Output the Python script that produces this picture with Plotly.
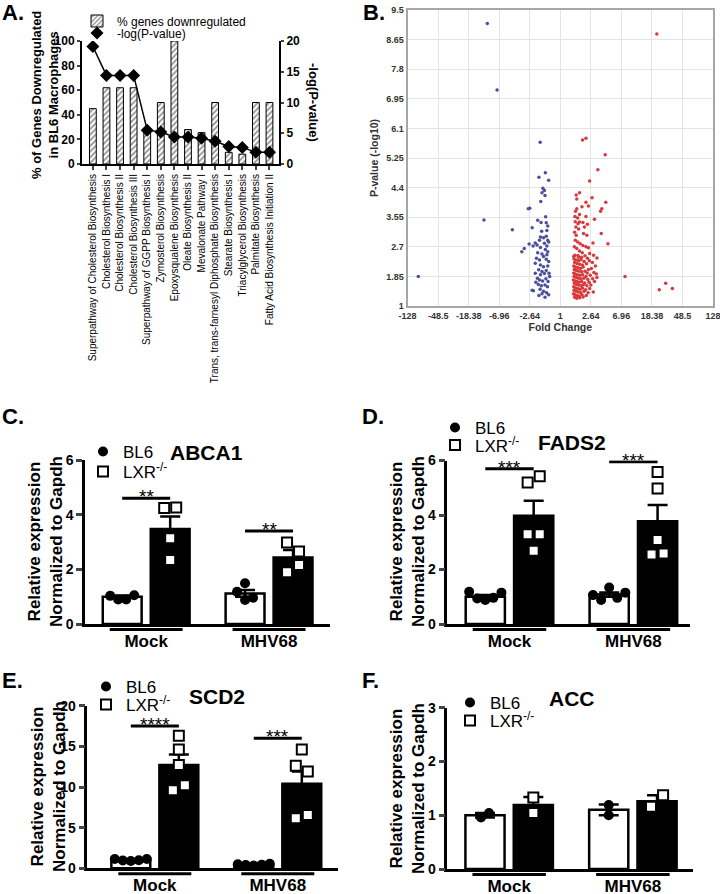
import plotly.graph_objects as go

W, H = 720, 894
FONT = "Arial, 'Liberation Sans', sans-serif"

# ---------------- Panel A data ----------------
pathways = [
    "Superpathway of Cholesterol Biosynthesis",
    "Cholesterol Biosynthesis I",
    "Cholesterol Biosynthesis II",
    "Cholesterol Biosynthesis III",
    "Superpathway of GGPP Biosynthesis I",
    "Zymosterol Biosynthesis",
    "Epoxysqualene Biosynthesis",
    "Oleate Biosynthesis II",
    "Mevalonate Pathway I",
    "Trans, trans-farnesyl Diphosphate Biosynthesis",
    "Stearate Biosynthesis I",
    "Triacylglycerol Biosynthesis",
    "Palmitate Biosynthesis",
    "Fatty Acid Biosynthesis Initiation II",
]
pct_genes_down = [45, 62, 62, 62, 26, 50, 100, 28, 25.5, 50, 9.5, 8, 50, 50]
neg_log_p = [19.1, 14.4, 14.4, 14.4, 5.5, 5.2, 4.4, 4.4, 4.2, 3.7, 2.85, 2.7, 1.9, 1.9]

# ---------------- Panel B data ----------------
# fold change is shown on a signed log scale: one tick step = x2.64
fc_ticktext = ["-128", "-48.5", "-18.38", "-6.96", "-2.64", "1", "2.64", "6.96", "18.38", "48.5", "128"]
p_ticktext = ["1", "1.85", "2.7", "3.55", "4.4", "5.25", "6.1", "6.95", "7.8", "8.65", "9.5"]

down_fc = [-2.39, -2.07, -0.66, -4.65, -2.50, -1.57,
           -0.49, -0.70, -0.38, -0.57, -0.52, -0.60, -0.50, -0.64,
           -1.00, -1.05, -0.48, -0.74, -0.63, -0.46, -0.41, -0.92, -0.61, -0.44,
           -0.65, -0.55, -0.46, -0.41, -0.68,
           -1.02, -0.89, -1.18, -1.26,
           -0.82, -0.76, -0.52, -0.44, -0.38, -0.65, -0.49, -0.41, -0.74, -0.60, -0.55, -0.44,
           -0.78, -0.68, -0.46, -0.38, -0.82, -0.65, -0.55, -0.41, -0.71, -0.60, -0.46, -0.82,
           -0.65, -0.52, -0.37,
           -0.92, -0.88, -0.75, -0.68, -0.58, -0.47, -0.40, -0.72, -0.62, -0.50, -0.42, -0.66,
           -0.55, -0.45, -0.38, -0.60, -0.70, -0.50, -0.80, -0.35]
down_logp = [9.11, 7.20, 5.70, 1.85, 3.47, 3.19,
             4.83, 4.70, 4.61, 4.38, 4.32, 4.25, 4.17, 4.00,
             3.81, 3.79, 3.56, 3.46, 3.40, 3.39, 3.30, 3.25, 3.15, 3.17,
             2.98, 2.96, 3.00, 2.89, 2.89,
             2.78, 2.72, 2.65, 2.56,
             2.81, 2.75, 2.80, 2.72, 2.84, 2.68, 2.62, 2.56, 2.53, 2.49, 2.42, 2.47,
             2.37, 2.32, 2.34, 2.28, 2.23, 2.18, 2.13, 2.15, 2.04, 1.99, 2.02, 1.94,
             1.90, 1.93, 1.94,
             1.45, 1.44, 1.80, 1.75, 1.72, 1.78, 1.70, 1.62, 1.58, 1.60, 1.55, 1.48,
             1.42, 1.38, 1.32, 1.35, 1.30, 1.25, 1.68, 1.85]

up_fc = [3.16, 0.73, 0.84, 1.47, 1.23, 0.96,
         0.63, 0.52, 1.04, 1.49, 0.54, 0.84, 0.71, 0.92, 1.36, 1.32, 0.54, 0.50, 0.63, 0.84,
         0.48, 0.57, 1.12, 0.74, 0.63, 0.49, 0.58, 0.79, 0.89, 0.51, 0.60, 1.34, 0.47, 0.52,
         0.76, 0.87, 1.56, 1.07,
         0.49, 0.57, 0.65, 0.74, 0.84, 0.92,
         0.46, 0.54, 0.63, 0.72, 0.96, 1.09, 0.81, 0.48, 0.60, 0.89,
         0.45, 0.52, 0.60, 0.68, 0.78, 0.95, 1.05, 0.47, 0.55, 0.63, 0.72, 0.86, 1.15,
         0.44, 0.50, 0.58, 0.66, 0.75, 0.92, 1.02, 0.46, 0.53, 0.61, 0.70, 0.81, 0.88,
         1.10, 1.18, 0.44, 0.49, 0.56, 0.64, 0.73, 0.84, 0.98, 1.20, 0.45, 0.52, 0.59,
         0.67, 0.77, 0.90, 1.06, 0.43, 0.48, 0.55, 0.62, 0.70, 0.80, 0.94, 1.12, 0.46,
         0.53, 0.60, 0.68, 0.76, 0.87, 1.00, 0.44, 0.50, 0.57, 0.65, 0.73, 0.83, 0.96,
         0.45, 0.52, 0.59, 0.67, 0.78, 0.91, 1.08, 0.43, 0.48, 0.55, 0.62, 0.71, 0.85,
         0.47, 0.54, 0.64, 0.75, 0.44, 0.58, 0.70, 1.20,
         2.12, 3.45, 3.24, 3.67]
up_logp = [8.81, 5.77, 5.82, 5.34, 4.91, 4.59,
           4.25, 4.19, 4.11, 3.98, 4.07, 3.98, 3.85, 3.87, 3.79, 3.72, 3.79, 3.72, 3.63, 3.57,
           3.57, 3.53, 3.49, 3.40, 3.41, 3.42, 3.36, 3.27, 3.35, 3.27, 3.21, 3.08, 3.12, 3.03,
           3.08, 3.03, 2.79, 2.81,
           2.89, 2.84, 2.79, 2.74, 2.70, 2.67,
           2.70, 2.65, 2.58, 2.53, 2.51, 2.46, 2.44, 2.46, 2.40, 2.37,
           2.35, 2.32, 2.30, 2.33, 2.28, 2.30, 2.25, 2.25, 2.22, 2.20, 2.18, 2.21, 2.15,
           2.15, 2.12, 2.10, 2.08, 2.12, 2.05, 2.08, 2.05, 2.02, 2.00, 1.98, 2.00, 1.95,
           1.96, 1.92, 1.95, 1.92, 1.90, 1.88, 1.90, 1.85, 1.88, 1.82, 1.85, 1.82, 1.80,
           1.78, 1.80, 1.76, 1.78, 1.75, 1.72, 1.70, 1.68, 1.70, 1.66, 1.68, 1.70, 1.65,
           1.62, 1.60, 1.58, 1.62, 1.58, 1.60, 1.55, 1.52, 1.50, 1.48, 1.52, 1.47, 1.50,
           1.45, 1.42, 1.40, 1.38, 1.42, 1.38, 1.40, 1.35, 1.32, 1.30, 1.28, 1.32, 1.30,
           1.25, 1.22, 1.24, 1.26, 2.42, 2.45, 2.40, 2.38,
           1.85, 1.65, 1.47, 1.50]

# ---------------- Panels C-F data ----------------
groups = ["Mock", "MHV68"]

abca1_bl6_mean, abca1_bl6_sem = [1.0, 1.12], [0.04, 0.12]
abca1_lxr_mean, abca1_lxr_sem = [3.48, 2.43], [0.45, 0.28]
abca1_bl6_pts = [[1.03, 0.90, 0.90, 1.05], [1.49, 1.18, 0.88, 0.96]]
abca1_lxr_pts = [[4.24, 4.26, 3.14, 2.34], [2.98, 2.65, 1.89, 2.16]]
abca1_sig = [("**", 4.6), ("**", 3.4)]

fads2_bl6_mean, fads2_bl6_sem = [1.0, 1.08], [0.06, 0.08]
fads2_lxr_mean, fads2_lxr_sem = [3.97, 3.77], [0.55, 0.60]
fads2_bl6_pts = [[1.18, 0.94, 0.88, 0.96, 1.15], [1.06, 0.88, 1.34, 0.96, 1.15]]
fads2_lxr_pts = [[5.19, 5.42, 3.29, 3.29, 2.69], [5.58, 4.97, 3.08, 2.55, 2.59]]
fads2_sig = [("***", 5.7), ("***", 5.95)]

scd2_bl6_mean, scd2_bl6_sem = [1.05, 0.45], [0.06, 0.04]
scd2_lxr_mean, scd2_lxr_sem = [12.7, 10.4], [1.3, 1.5]
scd2_bl6_pts = [[1.15, 0.95, 0.90, 1.00, 1.15], [0.50, 0.40, 0.35, 0.45, 0.55]]
scd2_lxr_pts = [[16.3, 14.6, 12.7, 9.6, 10.2], [14.6, 12.6, 11.9, 6.15, 6.55]]
scd2_sig = [("****", 17.5), ("***", 16.0)]

acc_bl6_mean, acc_bl6_sem = [1.0, 1.1], [0.04, 0.10]
acc_lxr_mean, acc_lxr_sem = [1.19, 1.26], [0.15, 0.11]
acc_bl6_pts = [[0.96, 1.04], [1.00, 1.19]]
acc_lxr_pts = [[1.33, 1.04], [1.16, 1.37]]
acc_sig = []

# ---------------- helpers ----------------
def fx(px):
    return px / W

def fy(py):
    return 1 - py / H

def bold(size, color="black"):
    return dict(family=FONT, size=size, color=color, weight="bold")

def legend_box(marker_px, center_py, size):
    # plotly draws the legend symbol ~20px right of the legend's left edge
    return dict(x=fx(marker_px - 20), y=fy(center_py), xanchor="left", yanchor="middle",
                font=dict(family=FONT, size=size, color="black"),
                bgcolor="rgba(0,0,0,0)", borderwidth=0)

def swarm(vals, ypu, thr, step):
    """GraphPad-like horizontal spreading of overlapping points (pixel offsets)."""
    n = len(vals)
    order = sorted(range(n), key=lambda i: -vals[i])
    clusters = []
    for i in order:
        if clusters and any(abs(vals[i] - vals[j]) * ypu < thr for j in clusters[-1]):
            clusters[-1].append(i)
        else:
            clusters.append([i])
    offs = [0.0] * n
    for c in clusters:
        c = sorted(c)
        for k, i in enumerate(c):
            offs[i] = (k - (len(c) - 1) / 2) * step
    return offs

fig = go.Figure()
annotations = []
shapes = []
layout = {}

# ---------------- Panel A ----------------
fig.add_trace(go.Bar(
    x=pathways, y=pct_genes_down, width=0.5, name="% genes downregulated",
    marker=dict(color="white", line=dict(color="black", width=1),
                pattern=dict(shape="/", fgcolor="#222", bgcolor="white", size=4, solidity=0.45)),
    xaxis="x", yaxis="y", legend="legend"))
fig.add_trace(go.Scatter(
    x=pathways, y=neg_log_p, mode="lines", line=dict(color="black", width=1.5),
    xaxis="x", yaxis="y2", showlegend=False, hoverinfo="skip"))
fig.add_trace(go.Scatter(
    x=pathways, y=neg_log_p, mode="markers", name="-log(P-value)",
    marker=dict(symbol="diamond", size=10, color="black"),
    xaxis="x", yaxis="y2", legend="legend2"))

layout["xaxis"] = dict(domain=[fx(82), fx(279)], range=[-0.8, 13.7], anchor="y",
                       showline=True, linewidth=2, linecolor="black", ticks="outside",
                       ticklen=4, tickwidth=1.5, tickangle=-90, automargin=False,
                       tickfont=dict(family=FONT, size=10, color="black"), showgrid=False)
layout["yaxis"] = dict(domain=[fy(164), fy(41)], range=[0, 100], anchor="x",
                       tickvals=[0, 20, 40, 60, 80, 100], showline=True, linewidth=2,
                       linecolor="black", ticks="outside", ticklen=3, tickwidth=2,
                       tickfont=bold(12), showgrid=False, zeroline=False, automargin=False)
layout["yaxis2"] = dict(range=[0, 20], overlaying="y", side="right", anchor="x",
                        tickvals=[0, 5, 10, 15, 20], showline=True, linewidth=2,
                        linecolor="black", ticks="outside", ticklen=3, tickwidth=2,
                        tickfont=bold(12), showgrid=False, zeroline=False, automargin=False)
layout["legend"] = legend_box(97, 21, 12)
layout["legend2"] = legend_box(97, 33, 12)
annotations.append(dict(text="% of Genes Downregulated<br>in BL6 Macrophages",
                        x=fx(45), y=fy(95), xref="paper", yref="paper", textangle=-90,
                        showarrow=False, font=bold(13), xanchor="center", yanchor="middle"))
annotations.append(dict(text="-log(P-value)", x=fx(313), y=fy(102), xref="paper", yref="paper",
                        textangle=90, showarrow=False, font=bold(13),
                        xanchor="center", yanchor="middle"))

# ---------------- Panel B ----------------
fc_tickpos = list(range(-5, 6))
fig.add_trace(go.Scatter(x=down_fc, y=down_logp, mode="markers", showlegend=False,
                         marker=dict(size=3.5, color="#4d4f9c"), xaxis="x2", yaxis="y3"))
fig.add_trace(go.Scatter(x=up_fc, y=up_logp, mode="markers", showlegend=False,
                         marker=dict(size=3.5, color="#d8393b"), xaxis="x2", yaxis="y3"))
grid_style = dict(showgrid=True, gridcolor="#e4e4e4", gridwidth=1, showline=True, mirror=True,
                  linecolor="#a6a6a6", linewidth=2, ticks="", zeroline=False, automargin=False,
                  tickfont=bold(9, "#333"), ticklabeloverflow="allow")
layout["xaxis2"] = dict(domain=[fx(407.6), fx(713)], range=[-5, 5], anchor="y3",
                        tickvals=fc_tickpos, ticktext=fc_ticktext,
                        title=dict(text="Fold Change", font=bold(10.5, "#333"), standoff=4),
                        **grid_style)
layout["yaxis3"] = dict(domain=[fy(306), fy(10)], range=[1, 9.5], anchor="x2",
                        tickvals=[float(t) for t in p_ticktext], ticktext=p_ticktext,
                        title=dict(text="P-value (-log10)", font=bold(10.5, "#333"), standoff=6),
                        **grid_style)

# ---------------- Panels C-F ----------------
GROUP_CENTERS = [0.5, 3.06]
BAR_W = 0.81
XPU = 48.0

panels = [
    dict(gene="ABCA1", xa="x3", ya="y4", legs=("legend3", "legend4"),
         bl6_mean=abca1_bl6_mean, bl6_sem=abca1_bl6_sem, lxr_mean=abca1_lxr_mean,
         lxr_sem=abca1_lxr_sem, bl6_pts=abca1_bl6_pts, lxr_pts=abca1_lxr_pts, sig=abca1_sig,
         xpx=(85, 330), ypx=(460, 624), xr=[-0.775, 4.33], yr=[0, 6], ytv=[0, 2, 4, 6],
         leg_x=103, leg_y=(452, 472), title_pos=(207, 452), ytitle_pos=(45, 542),
         letter="C.", letter_pos=(0, 417)),
    dict(gene="FADS2", xa="x4", ya="y5", legs=("legend5", "legend6"),
         bl6_mean=fads2_bl6_mean, bl6_sem=fads2_bl6_sem, lxr_mean=fads2_lxr_mean,
         lxr_sem=fads2_lxr_sem, bl6_pts=fads2_bl6_pts, lxr_pts=fads2_lxr_pts, sig=fads2_sig,
         xpx=(447.3, 690), ypx=(460.5, 624), xr=[-0.785, 4.23], yr=[0, 6], ytv=[0, 2, 4, 6],
         leg_x=455, leg_y=(428, 445.5), title_pos=(572, 443), ytitle_pos=(407, 542),
         letter="D.", letter_pos=(360, 417)),
    dict(gene="SCD2", xa="x5", ya="y6", legs=("legend7", "legend8"),
         bl6_mean=scd2_bl6_mean, bl6_sem=scd2_bl6_sem, lxr_mean=scd2_lxr_mean,
         lxr_sem=scd2_lxr_sem, bl6_pts=scd2_bl6_pts, lxr_pts=scd2_lxr_pts, sig=scd2_sig,
         xpx=(87.3, 338.3), ypx=(705.7, 868.3), xr=[-0.906, 4.32], yr=[0, 20],
         ytv=[0, 5, 10, 15, 20],
         leg_x=106, leg_y=(687, 705), title_pos=(217, 696), ytitle_pos=(48, 787),
         letter="E.", letter_pos=(0, 680)),
    dict(gene="ACC", xa="x6", ya="y7", legs=("legend9", "legend10"),
         bl6_mean=acc_bl6_mean, bl6_sem=acc_bl6_sem, lxr_mean=acc_lxr_mean,
         lxr_sem=acc_lxr_sem, bl6_pts=acc_bl6_pts, lxr_pts=acc_lxr_pts, sig=acc_sig,
         xpx=(447.3, 693.3), ypx=(707.7, 869), xr=[-0.78, 4.31], yr=[0, 3], ytv=[0, 1, 2, 3],
         leg_x=470, leg_y=(703, 721), title_pos=(572, 698), ytitle_pos=(407, 789),
         letter="F.", letter_pos=(360, 680)),
]

for p in panels:
    xa, ya = p["xa"], p["ya"]
    ypu = (p["ypx"][1] - p["ypx"][0]) / (p["yr"][1] - p["yr"][0])
    bl6_x = [c - 0.5 for c in GROUP_CENTERS]
    lxr_x = [c + 0.5 for c in GROUP_CENTERS]
    err = dict(type="data", visible=True, color="black", thickness=2.5, width=10)
    fig.add_trace(go.Bar(x=bl6_x, y=p["bl6_mean"], width=BAR_W, showlegend=False,
                         marker=dict(color="white", line=dict(color="black", width=2.5)),
                         error_y=dict(array=p["bl6_sem"], **err), xaxis=xa, yaxis=ya))
    fig.add_trace(go.Bar(x=lxr_x, y=p["lxr_mean"], width=BAR_W, showlegend=False,
                         marker=dict(color="black", line=dict(color="black", width=2.5)),
                         error_y=dict(array=p["lxr_sem"], **err), xaxis=xa, yaxis=ya))
    bx, by, lx, ly = [], [], [], []
    for g in range(len(groups)):
        offs = swarm(p["bl6_pts"][g], ypu, 8, 8)
        bx += [bl6_x[g] + o / XPU for o in offs]
        by += p["bl6_pts"][g]
        offs = swarm(p["lxr_pts"][g], ypu, 12, 12)
        lx += [lxr_x[g] + o / XPU for o in offs]
        ly += p["lxr_pts"][g]
    fig.add_trace(go.Scatter(x=bx, y=by, mode="markers", name="BL6", legend=p["legs"][0],
                             marker=dict(symbol="circle", size=10, color="black"),
                             xaxis=xa, yaxis=ya))
    fig.add_trace(go.Scatter(x=lx, y=ly, mode="markers", name="LXR<sup>-/-</sup>",
                             legend=p["legs"][1],
                             marker=dict(symbol="square", size=10, color="white",
                                         line=dict(color="black", width=2)),
                             xaxis=xa, yaxis=ya))
    layout[p["legs"][0]] = legend_box(p["leg_x"], p["leg_y"][0], 17)
    layout[p["legs"][1]] = legend_box(p["leg_x"], p["leg_y"][1], 17)
    xkey = "xaxis" + xa[1:]
    ykey = "yaxis" + ya[1:]
    layout[xkey] = dict(domain=[fx(p["xpx"][0]), fx(p["xpx"][1])], range=p["xr"], anchor=ya,
                        showline=True, linewidth=2.5, linecolor="black", ticks="",
                        tickvals=GROUP_CENTERS, ticktext=groups, tickfont=bold(17),
                        showgrid=False, zeroline=False, ticklabelstandoff=0, automargin=False)
    layout[ykey] = dict(domain=[fy(p["ypx"][1]), fy(p["ypx"][0])], range=p["yr"], anchor=xa,
                        tickvals=p["ytv"], showline=True, linewidth=2.5, linecolor="black",
                        ticks="outside", ticklen=6, tickwidth=2.5, tickfont=bold(14),
                        showgrid=False, zeroline=False, automargin=False)
    # group underlines below the x axis
    x0p, x1p = p["xpx"]
    r0, r1 = p["xr"]
    for c in GROUP_CENTERS:
        a = x0p + (c - 0.76 - r0) / (r1 - r0) * (x1p - x0p)
        b = x0p + (c + 0.76 - r0) / (r1 - r0) * (x1p - x0p)
        shapes.append(dict(type="line", xref="paper", yref="paper", x0=fx(a), x1=fx(b),
                           y0=fy(p["ypx"][1] + 5.5), y1=fy(p["ypx"][1] + 5.5),
                           line=dict(color="black", width=3)))
    # significance bars
    for g, (stars, yv) in enumerate(p["sig"]):
        shapes.append(dict(type="line", xref=xa, yref=ya, x0=bl6_x[g], x1=lxr_x[g], y0=yv, y1=yv,
                           line=dict(color="black", width=3)))
        annotations.append(dict(text=stars, x=GROUP_CENTERS[g], y=yv, xref=xa, yref=ya,
                                showarrow=False, yanchor="bottom", yshift=-11,
                                font=dict(family=FONT, size=19, color="black")))
    annotations.append(dict(text=p["gene"], x=fx(p["title_pos"][0]), y=fy(p["title_pos"][1]),
                            xref="paper", yref="paper", showarrow=False, font=bold(21),
                            xanchor="center", yanchor="middle"))
    annotations.append(dict(text="Relative expression<br>Normalized to Gapdh",
                            x=fx(p["ytitle_pos"][0]), y=fy(p["ytitle_pos"][1]),
                            xref="paper", yref="paper", textangle=-90, showarrow=False,
                            font=bold(17), xanchor="center", yanchor="middle"))
    annotations.append(dict(text=p["letter"], x=fx(p["letter_pos"][0]), y=fy(p["letter_pos"][1]),
                            xref="paper", yref="paper", showarrow=False, font=bold(22),
                            xanchor="left", yanchor="middle"))

annotations.append(dict(text="A.", x=0, y=fy(13), xref="paper", yref="paper", showarrow=False,
                        font=bold(22), xanchor="left", yanchor="middle"))
annotations.append(dict(text="B.", x=fx(361), y=fy(13), xref="paper", yref="paper",
                        showarrow=False, font=bold(22), xanchor="left", yanchor="middle"))

fig.update_layout(
    width=W, height=H, margin=dict(l=0, r=0, t=0, b=0, pad=0, autoexpand=False),
    paper_bgcolor="white", plot_bgcolor="white", barmode="overlay",
    font=dict(family=FONT, color="black"),
    annotations=annotations, shapes=shapes, showlegend=True,
    **layout,
)

page_fix = (
    "var s=[document.documentElement, document.body];"
    "for (var i=0;i<s.length;i++){s[i].style.margin='0px';s[i].style.padding='0px';"
    "s[i].style.overflow='hidden';s[i].style.width='720px';s[i].style.height='894px';}"
)
fig.write_html("out.html", config={"displayModeBar": False}, post_script=page_fix)
